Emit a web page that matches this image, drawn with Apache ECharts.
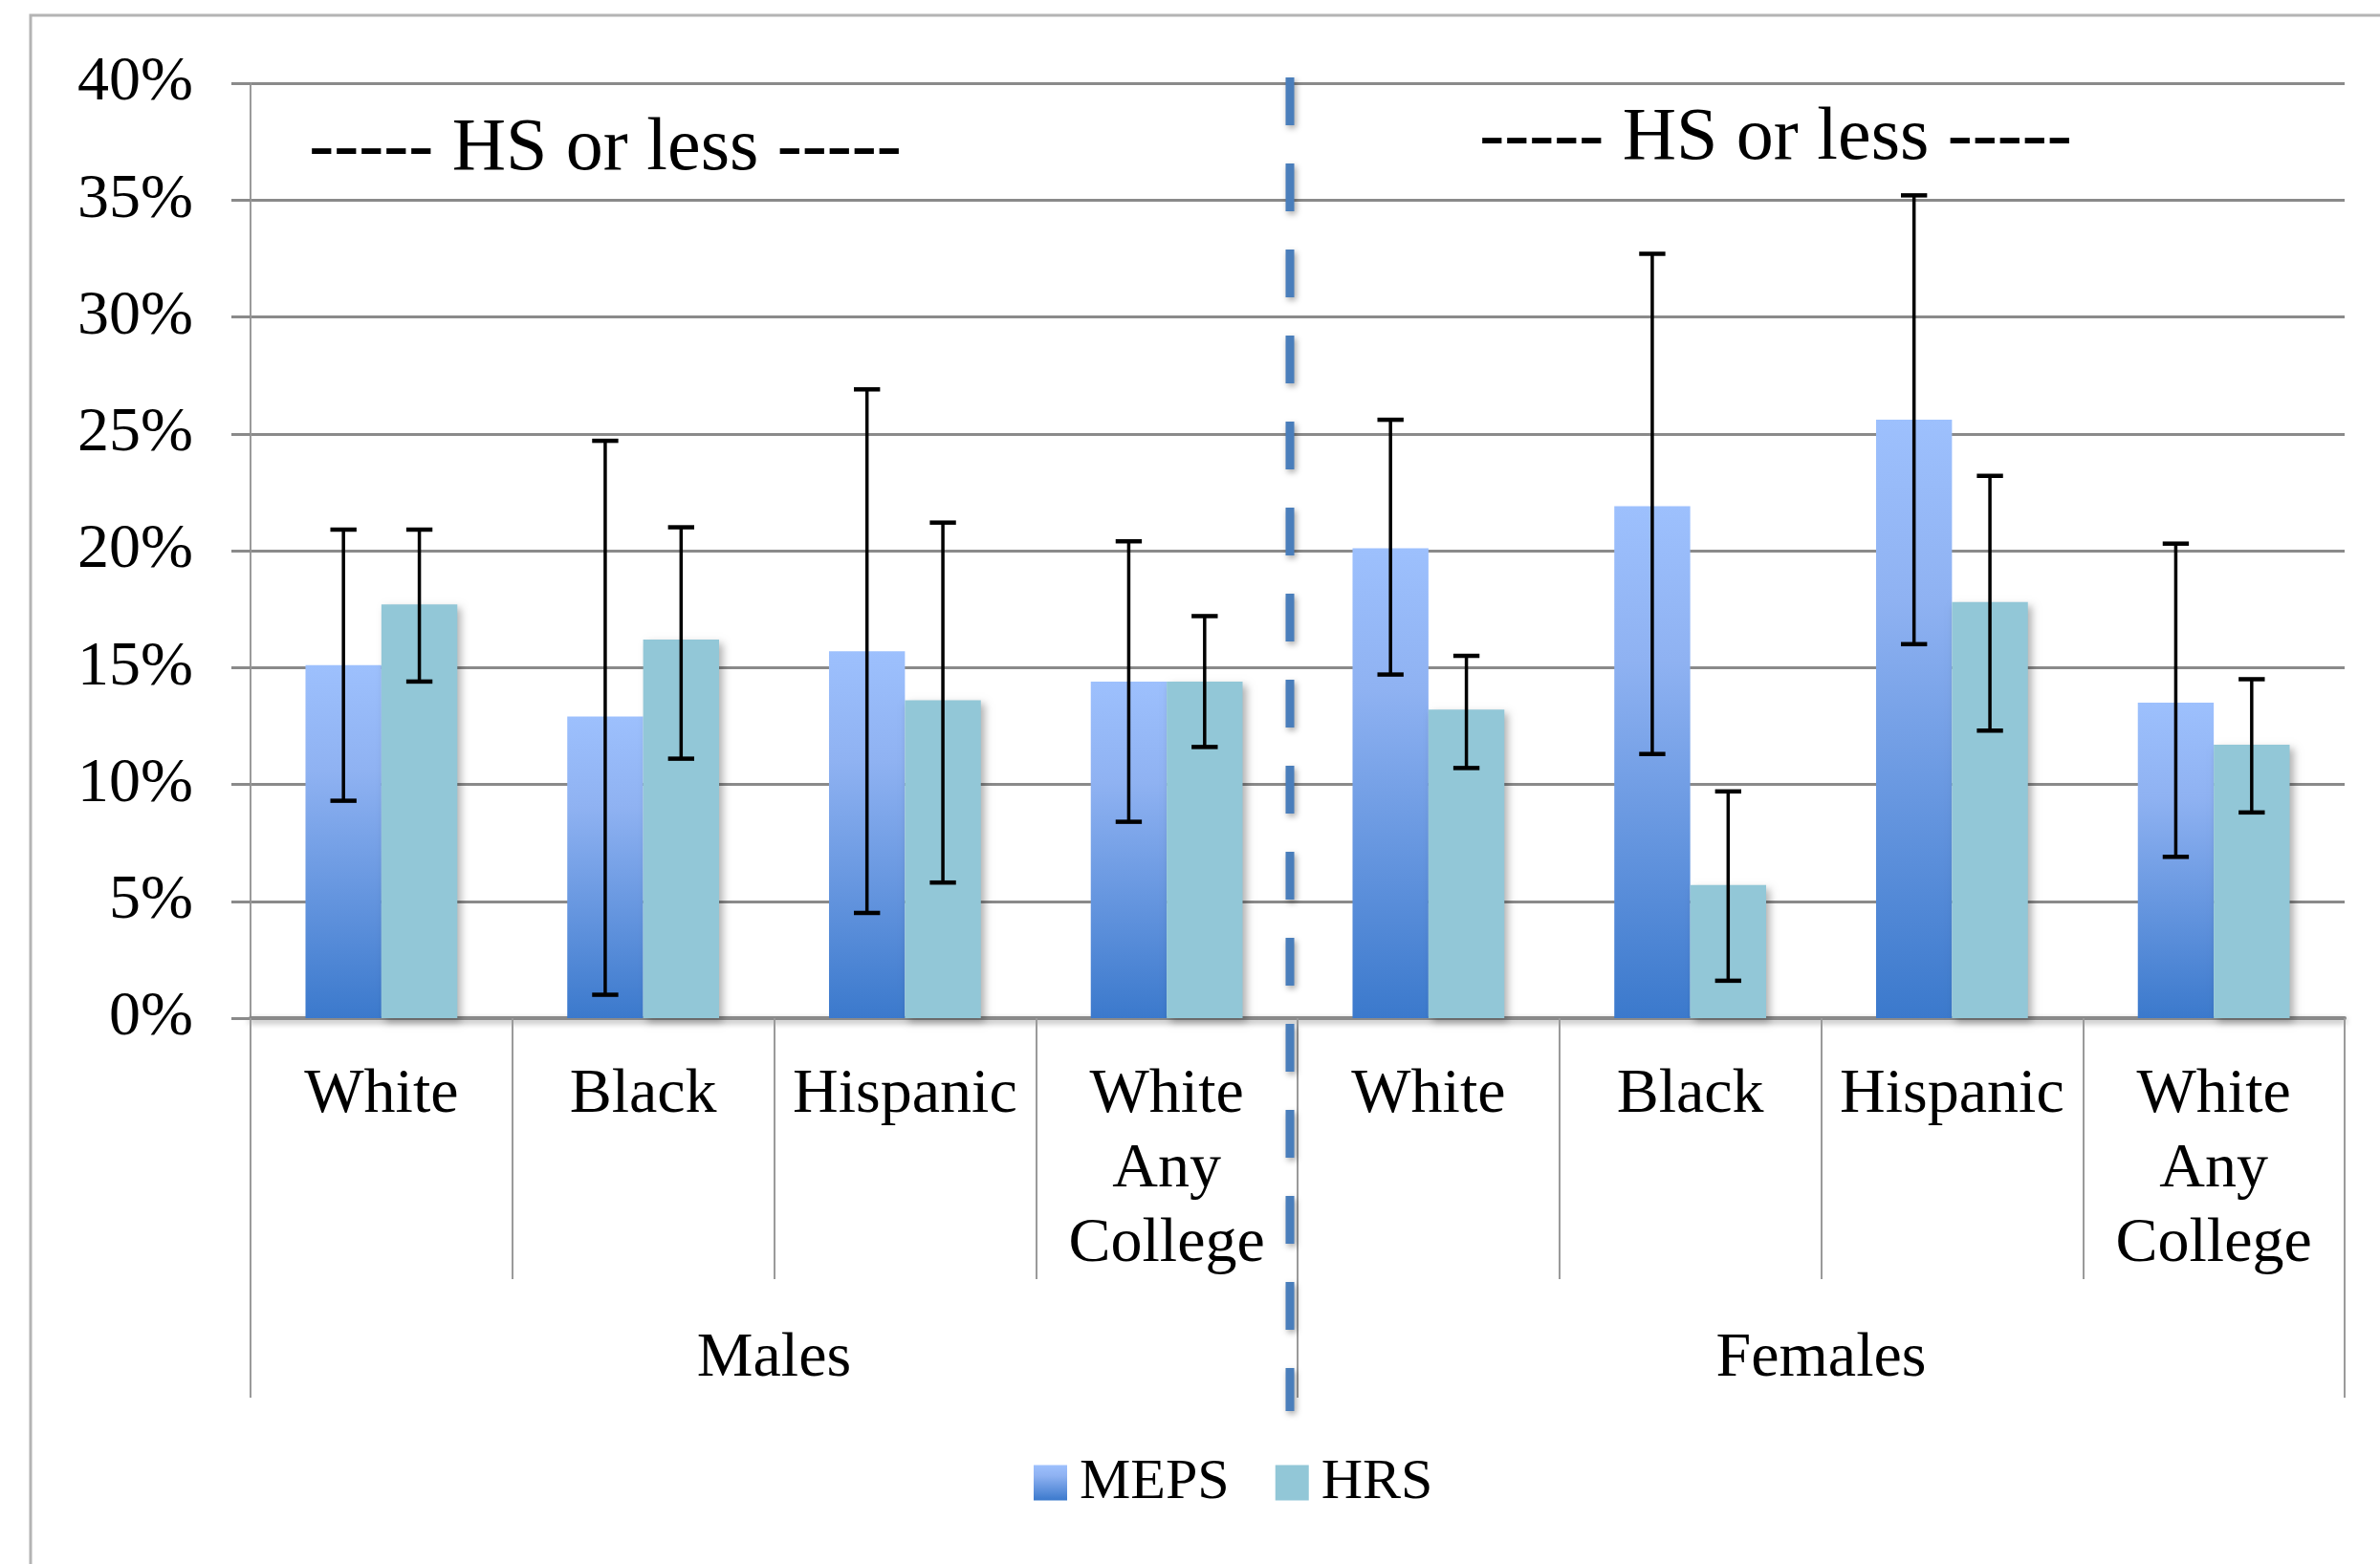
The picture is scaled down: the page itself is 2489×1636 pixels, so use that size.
<!DOCTYPE html>
<html>
<head>
<meta charset="utf-8">
<script src="https://cdn.jsdelivr.net/npm/echarts@6/dist/echarts.min.js"></script>
<style>
  html, body { margin: 0; padding: 0; background: #ffffff; }
  #chart { width: 2489px; height: 1636px; }
</style>
</head>
<body>
<div id="chart"></div>
<script>
// ---- Data (values in percent) ----
const categories = ['White', 'Black', 'Hispanic', 'White\nAny\nCollege', 'White', 'Black', 'Hispanic', 'White\nAny\nCollege'];
const groups = ['Males', 'Females'];
const yTicks = [0, 5, 10, 15, 20, 25, 30, 35, 40];

const mepsValues = [15.1, 12.9, 15.7, 14.4, 20.1, 21.9, 25.6, 13.5];
const mepsLow    = [9.3, 1.0, 4.5, 8.4, 14.7, 11.3, 16.0, 6.9];
const mepsHigh   = [20.9, 24.7, 26.9, 20.4, 25.6, 32.7, 35.2, 20.3];

const hrsValues  = [17.7, 16.2, 13.6, 14.4, 13.2, 5.7, 17.8, 11.7];
const hrsLow     = [14.4, 11.1, 5.8, 11.6, 10.7, 1.6, 12.3, 8.8];
const hrsHigh    = [20.9, 21.0, 21.2, 17.2, 15.5, 9.7, 23.2, 14.5];

const annotation = '----- HS or less -----';

// ---- Chart ----
const FONT = 'Liberation Serif';
const chart = echarts.init(document.getElementById('chart'), null, { renderer: 'canvas' });
const CAT_GAP = 0.42;

function errorBarRenderer(side) {
  return function (params, api) {
    const idx = api.value(0);
    const lo = api.coord([idx, api.value(1)]);
    const hi = api.coord([idx, api.value(2)]);
    const band = api.size([1, 0])[0];
    const barW = band * (1 - CAT_GAP) / 2;
    const x = lo[0] + side * barW / 2;
    const cap = band * 0.05;
    const style = { stroke: '#000', lineWidth: 3.5 };
    return {
      type: 'group',
      children: [
        { type: 'line', shape: { x1: x, y1: hi[1], x2: x, y2: lo[1] }, style: style },
        { type: 'line', shape: { x1: x - cap, y1: hi[1], x2: x + cap, y2: hi[1] }, style: { stroke: '#000', lineWidth: 4.5 } },
        { type: 'line', shape: { x1: x - cap, y1: lo[1], x2: x + cap, y2: lo[1] }, style: { stroke: '#000', lineWidth: 4.5 } }
      ]
    };
  };
}

const mepsGradient = new echarts.graphic.LinearGradient(0, 0, 0, 1, [
  { offset: 0, color: '#9DC0FD' },
  { offset: 0.3, color: '#8FB2F2' },
  { offset: 1, color: '#3B79CC' }
]);

const option = {
  backgroundColor: '#ffffff',
  animation: false,
  textStyle: { fontFamily: FONT },
  grid: { left: 262, right: 37, top: 87, bottom: 571, containLabel: false },
  legend: {
    data: ['MEPS', 'HRS'],
    left: 1076,
    top: 1516,
    icon: 'rect',
    itemWidth: 35,
    itemHeight: 37,
    itemGap: 48,
    textStyle: { fontFamily: FONT, fontSize: 60, color: '#000', padding: [0, 0, 0, 8] }
  },
  xAxis: [
    {
      type: 'category',
      data: categories,
      position: 'bottom',
      offset: 0,
      axisLine: { show: true, lineStyle: { color: '#8a8a8a', width: 4, shadowBlur: 6, shadowColor: 'rgba(0,0,0,0.35)', shadowOffsetY: 3 } },
      axisTick: { show: true, interval: 0, length: 273, lineStyle: { color: '#9a9a9a', width: 2 } },
      axisLabel: { interval: 0, margin: 42, fontFamily: FONT, fontSize: 66, lineHeight: 78, color: '#000' },
      splitLine: { show: false }
    },
    {
      type: 'category',
      data: groups,
      position: 'bottom',
      offset: 0,
      axisLine: { show: false },
      axisTick: { show: true, interval: 0, length: 397, lineStyle: { color: '#9a9a9a', width: 2 } },
      axisLabel: { interval: 0, margin: 318, fontFamily: FONT, fontSize: 66, lineHeight: 78, color: '#000' },
      splitLine: { show: false }
    }
  ],
  yAxis: {
    type: 'value',
    min: 0,
    max: 40,
    interval: 5,
    axisLine: { show: true, lineStyle: { color: '#9a9a9a', width: 2 } },
    axisTick: { show: true, length: 20, lineStyle: { color: '#8a8a8a', width: 3 } },
    axisLabel: { margin: 60, fontFamily: FONT, fontSize: 66, color: '#000', formatter: '{value}%' },
    splitLine: { show: true, lineStyle: { color: '#8a8a8a', width: 3 } }
  },
  series: [
    {
      name: 'MEPS',
      type: 'bar',
      data: mepsValues,
      barGap: '0%',
      barCategoryGap: (CAT_GAP * 100) + '%',
      itemStyle: { color: mepsGradient, shadowBlur: 8, shadowColor: 'rgba(0,0,0,0.3)', shadowOffsetX: 4, shadowOffsetY: 4 },
      z: 3
    },
    {
      name: 'HRS',
      type: 'bar',
      data: hrsValues,
      barGap: '0%',
      barCategoryGap: (CAT_GAP * 100) + '%',
      itemStyle: { color: '#92C7D7', shadowBlur: 8, shadowColor: 'rgba(0,0,0,0.3)', shadowOffsetX: 4, shadowOffsetY: 4 },
      z: 3
    },
    {
      name: 'MEPS-err',
      type: 'custom',
      renderItem: errorBarRenderer(-1),
      data: mepsValues.map((v, i) => [i, mepsLow[i], mepsHigh[i]]),
      encode: { x: 0, y: [1, 2] },
      z: 10,
      silent: true
    },
    {
      name: 'HRS-err',
      type: 'custom',
      renderItem: errorBarRenderer(1),
      data: hrsValues.map((v, i) => [i, hrsLow[i], hrsHigh[i]]),
      encode: { x: 0, y: [1, 2] },
      z: 10,
      silent: true
    }
  ],
  graphic: [
    {
      id: 'frame',
      type: 'rect',
      shape: { x: 32, y: 16, width: 2600, height: 1800 },
      style: { fill: null, stroke: '#b4b4b4', lineWidth: 3 },
      z: -1,
      silent: true
    },
    {
      id: 'hs1',
      type: 'text',
      x: 633, y: 157,
      style: { text: annotation, fontFamily: FONT, fontSize: 78, fill: '#000', textAlign: 'center', textVerticalAlign: 'middle' },
      z: 20
    },
    {
      id: 'hs2',
      type: 'text',
      x: 1857, y: 146,
      style: { text: annotation, fontFamily: FONT, fontSize: 78, fill: '#000', textAlign: 'center', textVerticalAlign: 'middle' },
      z: 20
    }
  ]
};

chart.setOption(option);

// Dashed divider between the male and female groups, positioned from the axis scale
const xa = chart.convertToPixel({ xAxisIndex: 0 }, 3);
const xb = chart.convertToPixel({ xAxisIndex: 0 }, 4);
const divX = (xa + xb) / 2 - 8;
const topY = chart.convertToPixel({ yAxisIndex: 0 }, 40) - 6;
chart.setOption({
  graphic: [
    {
      id: 'divider',
      type: 'line',
      shape: { x1: divX, y1: topY, x2: divX, y2: 1476 },
      style: { stroke: '#4A7EBB', lineWidth: 9, lineDash: [50, 40], shadowBlur: 6, shadowColor: 'rgba(0,0,0,0.35)', shadowOffsetX: 2, shadowOffsetY: 3 },
      z: 15,
      silent: true
    }
  ]
});
</script>
</body>
</html>
